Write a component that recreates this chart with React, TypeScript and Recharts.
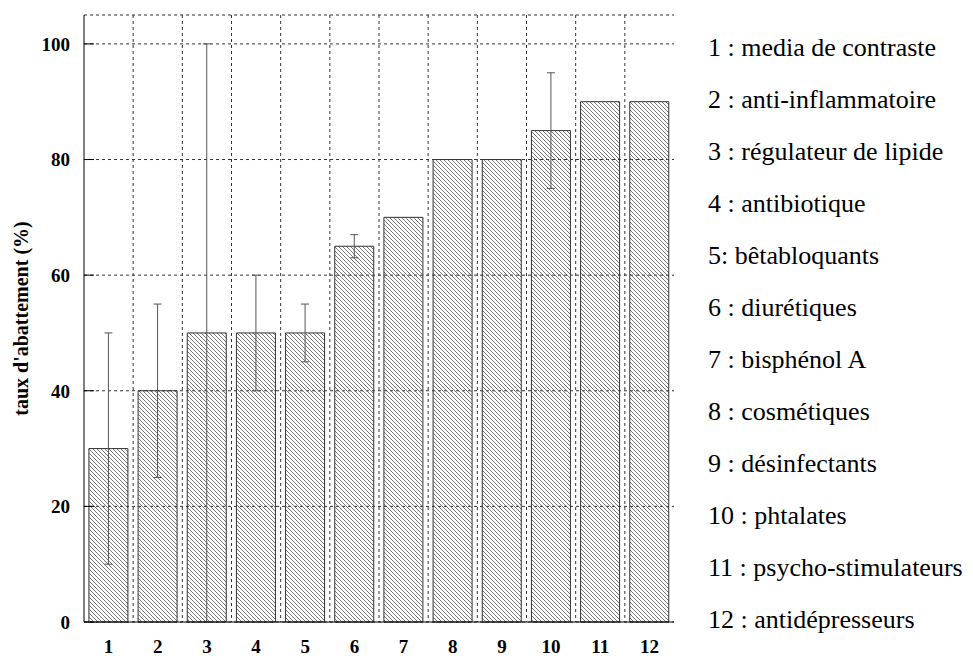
import {
  Bar,
  BarChart,
  CartesianGrid,
  ErrorBar,
  XAxis,
  YAxis,
} from "recharts";

const CATEGORIES = ["1", "2", "3", "4", "5", "6", "7", "8", "9", "10", "11", "12"];
const ABATEMENT = [30, 40, 50, 50, 50, 65, 70, 80, 80, 85, 90, 90];
const ERROR = [20, 15, 50, 10, 5, 2, 0, 0, 0, 10, 0, 0];
const Y_TICKS = [0, 20, 40, 60, 80, 100];
const LEGEND_LABELS = [
  "1 : media de contraste",
  "2 : anti-inflammatoire",
  "3 : régulateur de lipide",
  "4 : antibiotique",
  "5: bêtabloquants",
  "6 : diurétiques",
  "7 : bisphénol A",
  "8 : cosmétiques",
  "9 : désinfectants",
  "10 : phtalates",
  "11 : psycho-stimulateurs",
  "12 : antidépresseurs",
];

const data = CATEGORIES.map((name, i) => ({
  name,
  value: ABATEMENT[i],
  err: ERROR[i],
}));

const SERIF = "'Liberation Serif', serif";
const tickStyle = { fill: "#000", fontSize: 19, fontWeight: 700, fontFamily: SERIF };

export default function App() {
  return (
    <div style={{ position: "relative", width: 973, height: 659, background: "#fff" }}>
      <style>{"body{margin:0}"}</style>
      <BarChart
        width={973}
        height={659}
        data={data}
        margin={{ top: 15, right: 299, bottom: 0, left: 0 }}
        barCategoryGap="10%"
      >
        <defs>
          <pattern id="hatch" patternUnits="userSpaceOnUse" width={4} height={4}>
            <path d="M-1,-1 L5,5 M-1,3 L1,5 M3,-1 L5,1" stroke="#555" strokeWidth={0.8} />
          </pattern>
        </defs>
        <CartesianGrid
          stroke="#333"
          strokeDasharray="3 3"
          verticalCoordinatesGenerator={({ offset }: any) =>
            CATEGORIES.slice(1).map(
              (_, i) => offset.left + ((i + 1) * offset.width) / CATEGORIES.length,
            )
          }
        />
        <XAxis
          dataKey="name"
          height={37}
          tick={tickStyle}
          tickLine={false}
          axisLine={{ stroke: "#000" }}
          tickMargin={12}
        />
        <XAxis xAxisId="top" dataKey="name" orientation="top" height={0} tick={false} tickLine={false} axisLine={{ stroke: "#000" }} />
        <YAxis
          width={84}
          domain={[0, 105]}
          ticks={Y_TICKS}
          tick={tickStyle}
          tickSize={-10}
          tickMargin={24}
          tickLine={{ stroke: "#000" }}
          axisLine={{ stroke: "#000" }}
          label={{
            value: "taux d'abattement (%)",
            content: ({ viewBox }: any) => (
              <text
                transform={`translate(${viewBox.x + 28},${viewBox.y + viewBox.height / 2}) rotate(-90)`}
                textAnchor="middle"
                fontFamily={SERIF}
                fontWeight={700}
                fontSize={20}
                fill="#000"
              >
                taux d'abattement (%)
              </text>
            ),
          }}
        />
        <YAxis
          yAxisId="r"
          orientation="right"
          width={0}
          domain={[0, 105]}
          ticks={Y_TICKS}
          tick={false}
          tickSize={-10}
          tickLine={{ stroke: "#000" }}
          axisLine={{ stroke: "#000" }}
        />
        <Bar dataKey="value" fill="url(#hatch)" stroke="#333" strokeWidth={1} isAnimationActive={false}>
          <ErrorBar dataKey="err" width={4} stroke="#555" strokeWidth={1} isAnimationActive={false} />
        </Bar>
      </BarChart>
      <div
        style={{
          position: "absolute",
          left: 708,
          top: 22,
          fontFamily: SERIF,
          fontSize: 26,
          lineHeight: "52px",
          color: "#000",
          whiteSpace: "nowrap",
        }}
      >
        {LEGEND_LABELS.map((label) => (
          <div key={label}>{label}</div>
        ))}
      </div>
    </div>
  );
}
